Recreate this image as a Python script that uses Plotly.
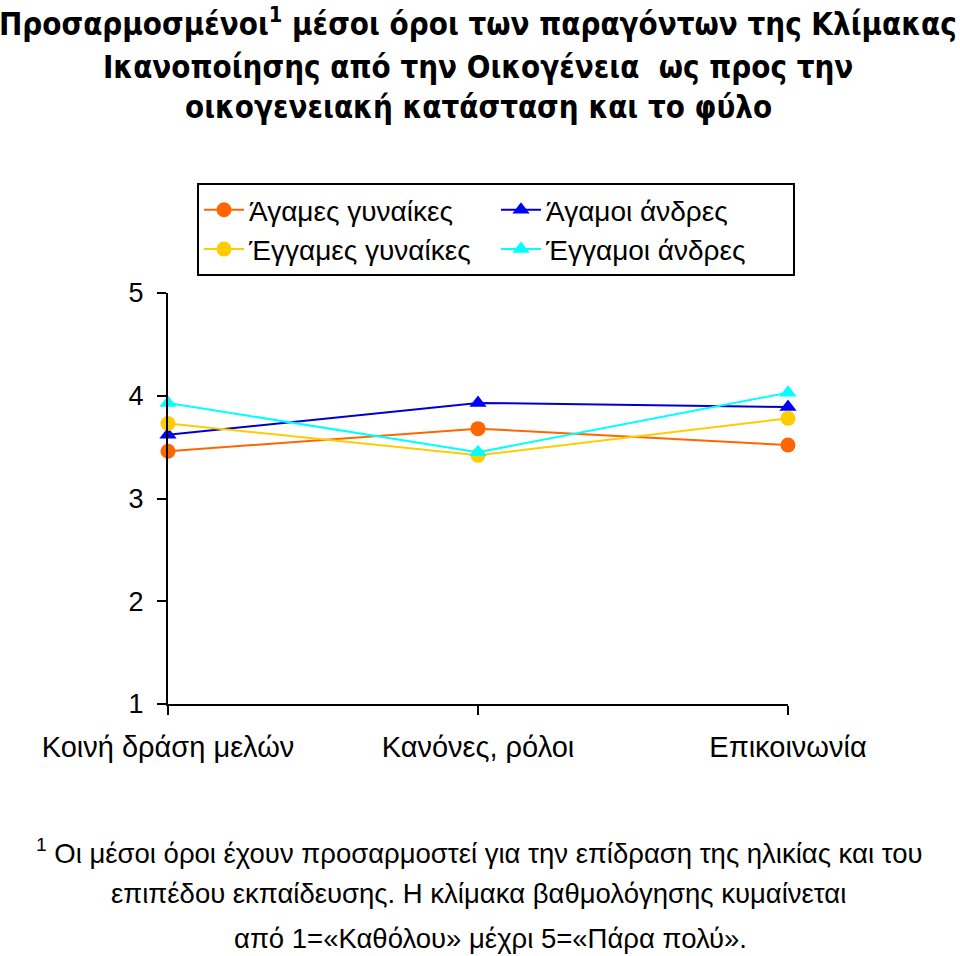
import plotly.graph_objects as go

categories = ["Κοινή δράση μελών", "Κανόνες, ρόλοι", "Επικοινωνία"]
agames_gynaikes = [3.46, 3.68, 3.52]
engames_gynaikes = [3.73, 3.42, 3.78]
agamoi_andres = [3.62, 3.93, 3.89]
engamoi_andres = [3.93, 3.45, 4.03]
y_ticks = [1, 2, 3, 4, 5]

title_lines = [
    "Προσαρμοσμένοι<sup>1</sup> μέσοι όροι των παραγόντων της Κλίμακας",
    "Ικανοποίησης από την Οικογένεια  ως προς την",
    "οικογενειακή κατάσταση και το φύλο",
]
foot_lines = [
    "<sup>1</sup> Οι μέσοι όροι έχουν προσαρμοστεί για την επίδραση της ηλικίας και του",
    "επιπέδου εκπαίδευσης. Η κλίμακα βαθμολόγησης κυμαίνεται",
    "από 1=«Καθόλου» μέχρι 5=«Πάρα πολύ».",
]

TFONT = "DejaVu Sans Condensed, Liberation Sans, Arial, sans-serif"
REG = "Liberation Sans, Arial, sans-serif"

fig = go.Figure()
series = [
    ("Άγαμες γυναίκες", agames_gynaikes, "#FF6600", "#FF6600", "circle"),
    ("Άγαμοι άνδρες", agamoi_andres, "#0000CC", "#0000FF", "triangle-up"),
    ("Έγγαμες γυναίκες", engames_gynaikes, "#FFCC00", "#FFCC00", "circle"),
    ("Έγγαμοι άνδρες", engamoi_andres, "#00FFFF", "#00FFFF", "triangle-up"),
]
for name, vals, lc, mc, sym in series:
    fig.add_trace(go.Scatter(
        x=categories, y=vals, name=name, mode="lines+markers",
        line=dict(color=lc, width=2),
        marker=dict(color=mc, symbol=sym, size=15, line=dict(width=0)),
        cliponaxis=False,
    ))

L, T, W, H = 168, 293, 620, 411
def py(ypx):
    return (T + H - ypx) / H
def px(xpx):
    return (xpx - L) / W

annotations = []
for txt, ypx in zip(title_lines, [22, 67, 107]):
    annotations.append(dict(text="<b>" + txt + "</b>", x=0.5, xref="paper", xanchor="center",
                            y=py(ypx), yref="paper", yanchor="middle",
                            showarrow=False,
                            font=dict(family=TFONT, size=31, color="black")))
for txt, ypx, xc in zip(foot_lines, [851, 893, 938], [479, 478, 490]):
    annotations.append(dict(text=txt, x=px(xc), xref="paper", xanchor="center",
                            y=py(ypx), yref="paper", yanchor="middle",
                            showarrow=False,
                            font=dict(family=REG, size=27.5, color="black")))

fig.update_layout(
    width=960, height=956,
    margin=dict(l=L, r=960 - L - W, t=T, b=956 - T - H, pad=0),
    paper_bgcolor="white", plot_bgcolor="white",
    showlegend=True,
    legend=dict(orientation="h", x=px(197), y=py(183), xanchor="left", yanchor="top",
                bordercolor="black", borderwidth=2, bgcolor="white",
                font=dict(family=REG, size=28, color="black"),
                entrywidth=242, tracegroupgap=0, itemwidth=40),
    xaxis=dict(type="category", range=[0, 2], showline=True, linecolor="black",
               linewidth=2, ticks="outside", ticklen=9, tickwidth=2, tickcolor="black",
               showgrid=False, zeroline=False, ticklabelstandoff=7,
               tickfont=dict(family=REG, size=29, color="black")),
    yaxis=dict(range=[1, 5], tickvals=y_ticks, showline=True, linecolor="black",
               linewidth=2, ticks="outside", ticklen=9, tickwidth=2, tickcolor="black",
               showgrid=False, zeroline=False, ticklabelstandoff=8,
               tickfont=dict(family=REG, size=27, color="black")),
    annotations=annotations,
)

fig.write_html("out.html")
